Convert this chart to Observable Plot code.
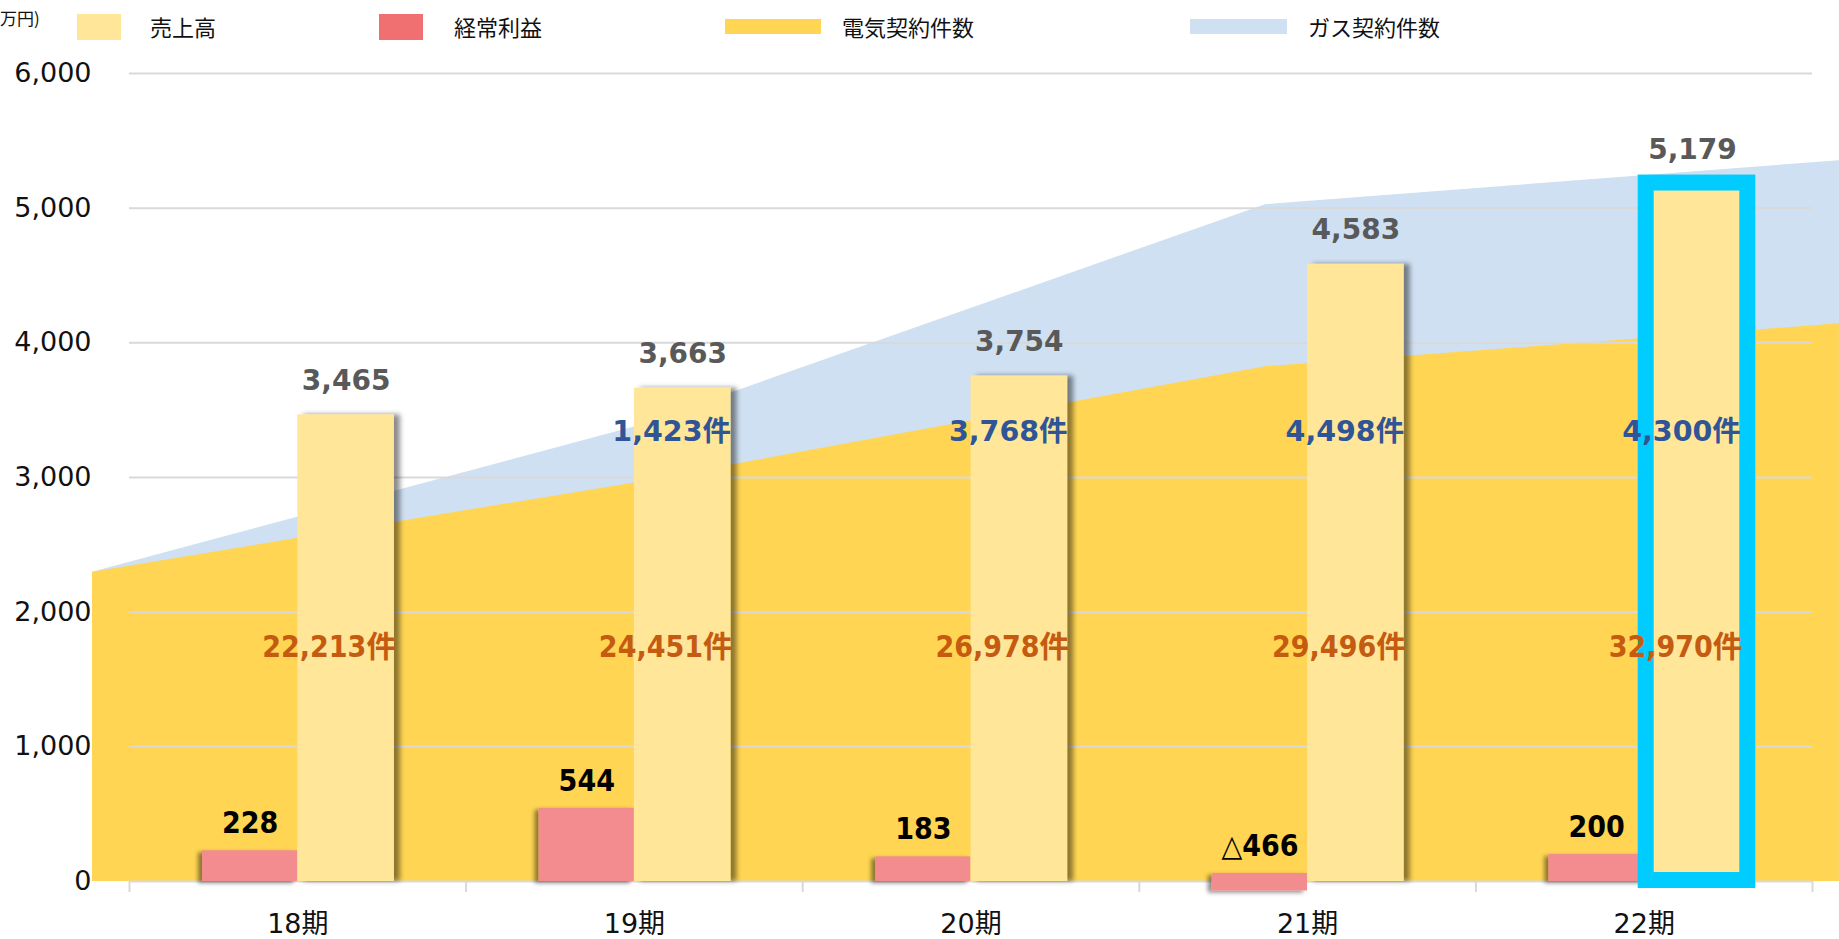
<!DOCTYPE html>
<html>
<head>
<meta charset="utf-8">
<script src="https://cdn.jsdelivr.net/npm/d3@7"></script>
<script src="https://cdn.jsdelivr.net/npm/@observablehq/plot@0.6"></script>
<style>
  html, body { margin: 0; padding: 0; background: #fff; overflow: hidden; }
  #legend { position: relative; height: 50px; width: 1839px; font-family: "Noto Sans CJK JP", sans-serif; color: #111; }
  #legend .sw { position: absolute; }
  #legend .lt { position: absolute; font-size: 22px; line-height: 1; top: 15px; }
  #unit { position: absolute; left: 0px; top: 9px; font-size: 17px; line-height: 1; }
</style>
</head>
<body>
<div id="legend"></div>
<div id="chart"></div>
<script>
// ---- data ----
const unitText = "万円)";
const periods = ["18期", "19期", "20期", "21期", "22期"];
const sales = [3465, 3663, 3754, 4583, 5179];            // 売上高 (万円)
const profit = [228, 544, 183, -466, 200];               // 経常利益 (万円)
const profitBarLow = [0, 0, 0, -70, 0];                  // drawn bar extent as pictured
const profitBarHigh = [228, 544, 183, 60, 200];
const elecCount = [22213, 24451, 26978, 29496, 32970];   // 電気契約件数
const gasCount = [null, 1423, 3768, 4498, 4300];         // ガス契約件数
const areaX = [-0.11, 1.5, 3.375, 5.08];                 // area vertices (category index units)
const elecArea = [2297, 2960, 3822, 4141];               // yellow area top (primary-axis units)
const gasArea = [2297, 3375, 5026, 5353];                // blue area top (primary-axis units)
const yTicks = [0, 1000, 2000, 3000, 4000, 5000, 6000];
const gasLabelY = 3340, elecLabelY = 1740;
const highlightIndex = 4;

const legendItems = [
  {label: "売上高", color: "#FFE699"},
  {label: "経常利益", color: "#F07072"},
  {label: "電気契約件数", color: "#FFD553"},
  {label: "ガス契約件数", color: "#CFE0F2"}
];

// ---- layout ----
const pinkX = [0.217, 0.5];
const salesX = [0.5, 0.787];
const legendPos = [
  {sx: 77, sy: 14, sw: 44, sh: 26, tx: 150},
  {sx: 379, sy: 14, sw: 44, sh: 26, tx: 454},
  {sx: 725, sy: 19, sw: 96, sh: 15, tx: 842},
  {sx: 1190, sy: 19, sw: 97, sh: 15, tx: 1308}
];

const legend = document.getElementById("legend");
const unit = document.createElement("div");
unit.id = "unit"; unit.textContent = unitText;
legend.appendChild(unit);
legendItems.forEach((it, k) => {
  const p = legendPos[k];
  const s = document.createElement("div");
  s.className = "sw";
  Object.assign(s.style, {left: p.sx + "px", top: p.sy + "px", width: p.sw + "px", height: p.sh + "px", background: it.color});
  legend.appendChild(s);
  const t = document.createElement("div");
  t.className = "lt"; t.textContent = it.label;
  t.style.left = p.tx + "px";
  legend.appendChild(t);
});

const rows = periods.map((p, i) => ({
  i, period: p, sales: sales[i], profit: profit[i],
  pLow: profitBarLow[i], pHigh: profitBarHigh[i],
  elec: elecCount[i], gas: gasCount[i]
}));
const elecPts = areaX.map((x, k) => ({x, v: elecArea[k]}));
const gasPts = areaX.map((x, k) => ({x, v: gasArea[k]}));

const fmt = d3.format(",");
const numFont = "DejaVu Sans, Noto Sans CJK JP, sans-serif";
const condFont = "DejaVu Sans Condensed, DejaVu Sans, Noto Sans CJK JP, sans-serif";

const chart = Plot.plot({
  width: 1839,
  height: 889,
  marginTop: 23,
  marginBottom: 58,
  marginLeft: 129,
  marginRight: 27,
  style: {fontFamily: numFont, color: "#111", background: "transparent", overflow: "visible"},
  x: {type: "linear", domain: [0, 5]},
  y: {domain: [0, 6000]},
  marks: [
    Plot.areaY(gasPts, {x: "x", y1: 0, y2: "v", fill: "#CFE0F2"}),
    Plot.areaY(elecPts, {x: "x", y1: 0, y2: "v", fill: "#FFD553"}),
    Plot.gridY({ticks: yTicks.filter(d => d > 0), stroke: "#D9D9D9", strokeOpacity: 1, strokeWidth: 2}),
    Plot.ruleY([0], {stroke: "#D9D9D9", strokeWidth: 2}),
    Plot.axisY({ticks: yTicks, tickFormat: fmt, tickSize: 0, tickPadding: 38, fontSize: 27, label: null}),
    Plot.axisX({ticks: [0, 1, 2, 3, 4, 5], tickFormat: () => "", tickSize: 11, stroke: "#D9D9D9", strokeWidth: 2, label: null}),
    Plot.axisX({ticks: periods.map((_, i) => i + 0.5), tickFormat: d => periods[Math.floor(d)], tickSize: 0, tickPadding: 32, fontSize: 27, label: null}),
    Plot.rect(rows, {x1: d => d.i + pinkX[0], x2: d => d.i + pinkX[1], y1: "pLow", y2: "pHigh", fill: "#F28C8F"}),
    Plot.rect(rows, {x1: d => d.i + salesX[0], x2: d => d.i + salesX[1], y1: 0, y2: "sales", fill: "#FFE699"}),
    Plot.rect(rows.filter(d => d.i === highlightIndex), {
      x1: d => d.i + salesX[0], x2: d => d.i + salesX[1], y1: 0, y2: "sales",
      fill: "none", stroke: "#00CCFF", strokeWidth: 16,
      insetLeft: 2, insetRight: -7, insetTop: -1, insetBottom: 1
    }),
    Plot.text(rows, {x: d => d.i + (salesX[0] + salesX[1]) / 2, y: "sales", text: d => fmt(d.sales), dy: -34,
      fill: "#595959", fontSize: 28, fontWeight: "bold", fontFamily: numFont}),
    Plot.text(rows.filter(d => d.gas != null), {x: d => d.i + salesX[1], y: () => gasLabelY, text: d => fmt(d.gas) + "件",
      textAnchor: "end", dx: 0, fill: "#2F5597", fontSize: 28.5, fontWeight: "bold", fontFamily: numFont}),
    Plot.text(rows, {x: d => d.i + salesX[1], y: () => elecLabelY, text: d => fmt(d.elec) + "件",
      textAnchor: "end", dx: 2, fill: "#C55A11", fontSize: 30, fontWeight: "bold", fontFamily: condFont}),
    Plot.text(rows, {x: d => d.i + (pinkX[0] + pinkX[1]) / 2, y: "pHigh",
      text: d => (d.profit < 0 ? "△" + fmt(-d.profit) : fmt(d.profit)), dy: -27,
      fill: "#000", fontSize: 30, fontWeight: "bold", fontFamily: condFont})
  ]
});

// drop shadows on the bars
const ns = "http://www.w3.org/2000/svg";
const defs = document.createElementNS(ns, "defs");
defs.innerHTML = `
  <filter id="shR" x="-30%" y="-10%" width="160%" height="130%">
    <feDropShadow dx="6" dy="0" stdDeviation="2.5" flood-color="#000" flood-opacity="0.45"/>
  </filter>
  <filter id="shL" x="-30%" y="-10%" width="160%" height="130%">
    <feDropShadow dx="-4" dy="2" stdDeviation="2" flood-color="#000" flood-opacity="0.45"/>
  </filter>`;
chart.insertBefore(defs, chart.firstChild);
const rectGroups = chart.querySelectorAll('g[aria-label="rect"]');
if (rectGroups[0]) rectGroups[0].setAttribute("filter", "url(#shL)");
if (rectGroups[1]) rectGroups[1].setAttribute("filter", "url(#shR)");
chart.style.display = "block";
document.getElementById("chart").appendChild(chart);
</script>
</body>
</html>
